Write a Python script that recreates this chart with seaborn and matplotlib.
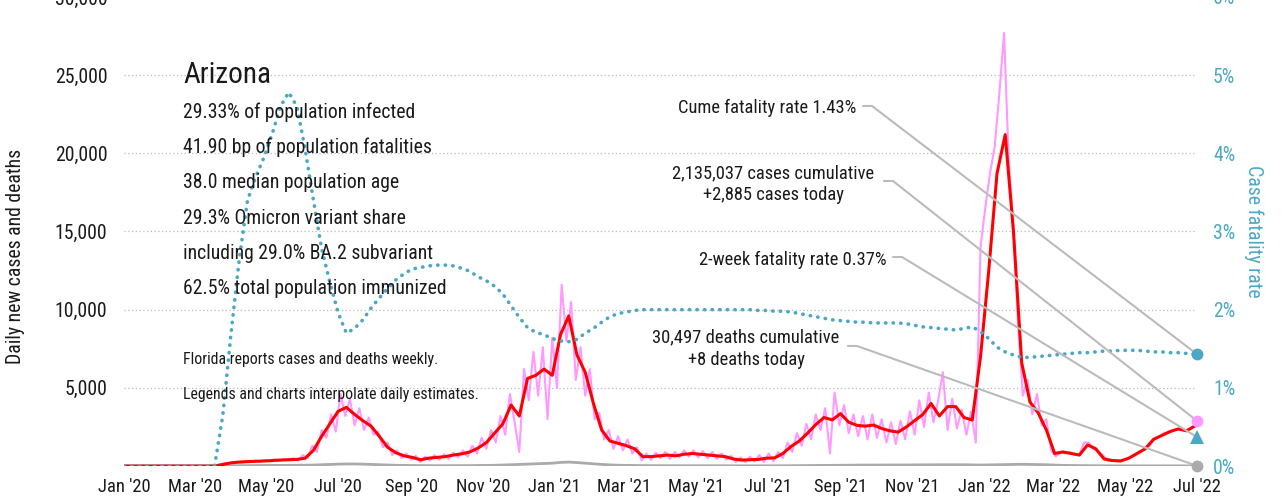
import matplotlib
matplotlib.use("Agg")
import matplotlib.pyplot as plt
import matplotlib.dates as mdates
from matplotlib import font_manager
import pandas as pd
import seaborn as sns

# 7-day average of new cases, one value per week from 2020-01-01
red_avg = [
    0, 0, 0, 0, 0, 0, 0, 0, 0, 0, 0, 0,
    100, 200, 250, 280, 300, 320, 350, 380, 400, 420,
    500, 1000, 1900, 2700, 3500, 3750, 3300, 2900, 2550, 1900,
    1200, 850, 650, 550, 400, 500, 550, 600, 700, 780,
    900, 1150, 1500, 2100, 2700, 3900, 3200, 5600, 5800, 6200,
    5800, 8400, 9600, 7100, 6000, 4000, 2300, 1600, 1450, 1300,
    1100, 600, 600, 650, 700, 650, 750, 800, 750, 700,
    650, 600, 450, 380, 400, 420, 500, 520, 800, 1250,
    1600, 2100, 2650, 3100, 2950, 3350, 2800, 2600, 2550, 2620,
    2400, 2250, 2170, 2500, 2900, 3300, 4000, 3200, 3800, 3800,
    3100, 2940, 7000, 12500, 18700, 21200, 15000, 6600, 4100, 3400,
    2300, 800, 900, 800, 700, 1350, 1100, 450, 350, 320,
    500, 800, 1100, 1700, 1950, 2200, 2370, 2250, 2550,
]

# daily deaths, weekly samples
deaths_daily = [
    0, 0, 0, 0, 0, 0, 0, 0, 0, 0, 0, 0,
    10, 20, 25, 30, 30, 35, 35, 40, 40, 45,
    50, 60, 80, 100, 120, 130, 130, 120, 100, 80,
    60, 45, 35, 30, 25, 25, 20, 20, 20, 25,
    25, 30, 35, 45, 60, 80, 100, 120, 140, 160,
    180, 230, 250, 220, 180, 140, 100, 70, 50, 40,
    30, 25, 20, 20, 20, 20, 15, 15, 15, 15,
    15, 15, 10, 10, 10, 10, 10, 15, 15, 20,
    25, 30, 40, 45, 50, 55, 55, 60, 60, 60,
    60, 60, 60, 65, 70, 70, 75, 80, 80, 85,
    80, 70, 60, 70, 80, 90, 100, 110, 100, 90,
    80, 60, 40, 30, 25, 20, 15, 15, 10, 10,
    10, 8, 8, 8, 8, 8, 8, 8, 8,
]

# case fatality rate (%), weekly samples
cfr_pct = [
    0, 0, 0, 0, 0, 0, 0, 0, 0, 0, 0, 0,
    0.65, 1.7, 2.65, 3.4, 3.7, 3.95, 4.25, 4.6, 4.78, 4.6,
    4.05, 3.4, 2.78, 2.35, 1.96, 1.70, 1.76, 1.87, 2.02, 2.15,
    2.27, 2.38, 2.46, 2.52, 2.54, 2.56, 2.57, 2.57, 2.56, 2.53,
    2.49, 2.42, 2.37, 2.30, 2.20, 2.05, 1.90, 1.77, 1.71, 1.68,
    1.63, 1.60, 1.59, 1.62, 1.70, 1.76, 1.84, 1.91, 1.95, 1.97,
    1.99, 2.0, 2.0, 2.0, 2.0, 2.0, 2.0, 2.0, 2.0, 2.0,
    2.0, 2.0, 2.0, 2.0, 2.0, 1.99, 1.99, 1.98, 1.98, 1.97,
    1.95, 1.93, 1.91, 1.89, 1.87, 1.86, 1.85, 1.84, 1.84, 1.83,
    1.83, 1.83, 1.83, 1.82, 1.80, 1.78, 1.77, 1.76, 1.75, 1.74,
    1.76, 1.78, 1.72, 1.63, 1.52, 1.46, 1.42, 1.39, 1.39, 1.40,
    1.41, 1.42, 1.43, 1.44, 1.45, 1.45, 1.46, 1.47, 1.47, 1.48,
    1.48, 1.48, 1.47, 1.46, 1.46, 1.45, 1.45, 1.44, 1.43,
]

# reported daily new cases, sampled every 4 days from 2020-01-01
cases_raw = [
    0, 0, 0, 0, 0, 0, 0, 0, 0, 0, 0, 0, 0, 0, 0, 0, 0, 0, 0, 0,
    50, 150, 200, 180, 280, 220, 300, 250, 350, 280,
    380, 300, 420, 350, 450, 380, 500, 350, 700, 500,
    1300, 900, 2300, 1800, 3300, 2200, 4600, 3200, 4300, 2600,
    3700, 2300, 3100, 2000, 2200, 1200, 1500, 700, 1000, 500,
    800, 400, 650, 250, 600, 350, 700, 400, 750, 450,
    850, 550, 1000, 600, 1300, 800, 1800, 1100, 2300, 1500,
    3200, 2000, 4600, 2800, 900, 6200, 4200, 7300, 4500, 7600,
    3000, 8200, 5000, 11600, 8000, 10500, 5500, 7600, 4500, 6200,
    3000, 3400, 1700, 2300, 1100, 1900, 1000, 1700, 800, 1200,
    350, 800, 400, 850, 500, 900, 450, 900, 550, 1000,
    600, 1000, 550, 950, 500, 900, 450, 800, 400, 650,
    250, 550, 250, 600, 300, 700, 250, 800, 300, 900,
    500, 1500, 900, 2100, 1300, 2700, 1700, 3300, 2300, 3700,
    800, 4700, 2600, 3900, 2100, 3300, 1900, 3200, 1700, 3300,
    1800, 3000, 1500, 2800, 1400, 2900, 1700, 3500, 2000, 4200,
    2500, 4700, 2800, 4200, 6000, 2300, 4300, 2400, 3600, 2000,
    3500, 1500, 14000, 16500, 18700, 20400, 23800, 27700, 19500, 15300,
    9000, 4500, 5500, 3300, 4600, 2600, 3000, 1000, 600, 900,
    800, 900, 750, 700, 1500, 1500, 1100, 900, 700, 350,
    350, 350, 350, 400, 550, 700, 900, 1100, 1300, 1800,
    1900, 2100, 2150, 2300, 2350, 2300, 2300, 2450, 2885,
]

cases_today = 2885
deaths_today = 8
cume_cfr = 1.43
two_week_cfr = 0.37

state = "Arizona"
info_lines = [
    "29.33% of population infected",
    "41.90 bp of population fatalities",
    "38.0 median population age",
    "29.3% Omicron variant share",
    "including 29.0% BA.2 subvariant",
    "62.5% total population immunized",
]
notes = [
    "Florida reports cases and deaths weekly.",
    "Legends and charts interpolate daily estimates.",
]
cume_label = "Cume fatality rate 1.43%"
cases_label = ["2,135,037 cases cumulative", "+2,885 cases today"]
two_week_label = "2-week fatality rate 0.37%"
deaths_label = ["30,497 deaths cumulative", "+8 deaths today"]

week_dates = pd.date_range("2020-01-01", periods=len(red_avg), freq="7D")
raw_dates = pd.date_range("2020-01-01", periods=len(cases_raw), freq="4D")
start_date = pd.Timestamp("2020-01-01")
end_date = pd.Timestamp("2022-07-01")

PINK = "#ff99ff"
RED = "#ff0000"
GRAY = "#aaaaaa"
TEAL = "#4ba8c5"
LEAD = "#bbbbbb"
INK = "#1a1a1a"

sns.set_theme(style="white")

# pick a condensed sans face if one is installed
entries = font_manager.fontManager.ttflist
names = {f.name for f in entries}
family, stretch = "DejaVu Sans", "normal"
narrow_names = sorted(n for n in names if "Condensed" in n or "Narrow" in n)
prefs = ["Roboto Condensed", "Liberation Sans Narrow", "Open Sans Condensed",
         "Noto Sans Condensed", "DejaVu Sans Condensed"]
chosen = [n for n in prefs if n in names] or narrow_names
if chosen:
    family = chosen[0]
else:
    for base in ["Roboto", "Noto Sans", "Open Sans", "Liberation Sans", "DejaVu Sans"]:
        st = [f.stretch for f in entries if f.name == base and f.stretch not in ("normal", 500)]
        if st:
            family, stretch = base, st[0]
            break
plt.rcParams["font.family"] = [family, "DejaVu Sans"]
plt.rcParams["font.stretch"] = stretch

W, H = 1282, 503
fig = plt.figure(figsize=(W / 100, H / 100), dpi=100)

# scale font sizes so a reference line gets the reference width (232 px)
renderer = fig.canvas.get_renderer()
probe = fig.text(0, 0, info_lines[0], fontsize=15.5)
fs = 232 / probe.get_window_extent(renderer).width
probe.remove()
fs = min(fs, 1.15)

ax = fig.add_axes([124 / W, 1 - 466 / H, (1197 - 124) / W, 469 / H])
ax2 = ax.twinx()

sns.lineplot(x=raw_dates, y=cases_raw, ax=ax, color=PINK, lw=1.5)
sns.lineplot(x=week_dates, y=deaths_daily, ax=ax, color=GRAY, lw=2)
sns.lineplot(x=week_dates, y=red_avg, ax=ax, color=RED, lw=2.2)
sns.lineplot(x=week_dates, y=cfr_pct, ax=ax2, color=TEAL, lw=2.6,
             linestyle=(0, (0.1, 2.0)), dash_capstyle="round")

ax.set_xlim(start_date, end_date)
ax.set_ylim(0, 30000)
ax2.set_ylim(0, 6)

xt = pd.date_range("2020-01-01", "2022-07-01", freq="2MS")
ax.set_xticks(xt)
ax.set_xticklabels([d.strftime("%b '%y") for d in xt])
yt = [5000, 10000, 15000, 20000, 25000, 30000]
ax.set_yticks(yt)
ax.set_yticklabels([f"{v:,}" for v in yt])
ax2.set_yticks(range(0, 7))
ax2.set_yticklabels([f"{v}%" for v in range(0, 7)])

ax.tick_params(axis="x", length=0, pad=9, labelsize=14.5 * fs, labelcolor=INK)
ax.tick_params(axis="y", length=0, pad=12, labelsize=15.5 * fs, labelcolor=INK)
ax2.tick_params(axis="y", length=0, pad=11.5, labelsize=15.5 * fs, labelcolor=TEAL)
ax.set_xlabel("")
ax.set_ylabel("")
ax2.set_ylabel("")
ax.yaxis.grid(True, linestyle=(0, (1, 2)), color=LEAD, lw=0.9)
ax.xaxis.grid(False)
ax2.grid(False)
for a in (ax, ax2):
    for s in a.spines.values():
        s.set_visible(False)

# leader lines from labels to the end markers
end_x = mdates.date2num(end_date)
to_fig = fig.transFigure.inverted()
leaders = [
    (863, 106, cume_cfr, ax2),
    (884, 181, cases_today, ax),
    (893, 257, two_week_cfr, ax2),
    (848, 346, deaths_today, ax),
]
for sx, sy, val, owner in leaders:
    ex, ey = owner.transData.transform((end_x, val))
    pts = to_fig.transform([(sx, H - sy), (sx + 9, H - sy), (ex, ey)])
    ax2.plot(pts[:, 0], pts[:, 1], transform=fig.transFigure, color=LEAD,
             lw=1.5, clip_on=False, zorder=5)

ax2.plot([end_x], [cume_cfr], "o", color=TEAL, ms=8.5, mew=0, clip_on=False, zorder=6)
ax2.plot([end_x], [two_week_cfr], "^", color=TEAL, ms=10, mew=0, clip_on=False, zorder=6)
ax2.plot([end_x], [cases_today], "o", color=PINK, ms=8.5, mew=0, clip_on=False,
         zorder=6, transform=ax.transData)
ax2.plot([end_x], [deaths_today], "o", color=GRAY, ms=8.5, mew=0, clip_on=False,
         zorder=6, transform=ax.transData)
ax.set_xlim(start_date, end_date)
ax.set_ylim(0, 30000)
ax2.set_ylim(0, 6)

# left text block
fig.text(183 / W, 1 - 83 / H, state, fontsize=23 * fs, va="baseline", color=INK)
for k, line in enumerate(info_lines):
    fig.text(183 / W, 1 - (118 + 35.2 * k) / H, line, fontsize=15.5 * fs,
             va="baseline", color=INK)
for k, line in enumerate(notes):
    fig.text(183 / W, 1 - (364 + 35 * k) / H, line, fontsize=12.5 * fs,
             va="baseline", color=INK)

# right-side annotations
fig.text(856 / W, 1 - 113 / H, cume_label, ha="right", va="baseline",
         fontsize=14.5 * fs, color=INK)
for k, line in enumerate(cases_label):
    fig.text(773 / W, 1 - (178 + 22.5 * k) / H, line, ha="center",
             va="baseline", fontsize=14.5 * fs, color=INK)
fig.text(887 / W, 1 - 265 / H, two_week_label, ha="right", va="baseline",
         fontsize=14.5 * fs, color=INK)
for k, line in enumerate(deaths_label):
    fig.text(746 / W, 1 - (342 + 23 * k) / H, line, ha="center",
             va="baseline", fontsize=14.5 * fs, color=INK)

# axis titles
fig.text(16 / W, 1 - 256 / H, "Daily new cases and deaths", rotation=90,
         ha="center", va="center", fontsize=15.5 * fs, color=INK)
fig.text(1254 / W, 1 - 231 / H, "Case fatality rate", rotation=270,
         ha="center", va="center", fontsize=15.5 * fs, color=TEAL)

fig.savefig("out.png", dpi=100)
